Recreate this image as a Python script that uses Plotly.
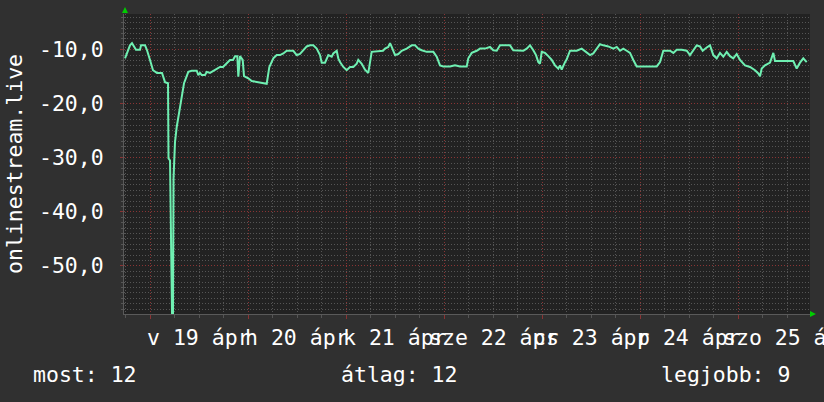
import plotly.graph_objects as go

# ---- data (hours since 2020-04-19 00:00, value) ----
hours = [-6.12, -4.90, -4.41, -3.43, -2.45, -2.20, -1.22, -0.73, 0.00, 0.73,
         1.71, 2.94, 3.67, 4.41, 4.53, 4.90, 5.39, 5.63, 5.76, 6.12,
         6.54, 7.18, 7.76, 8.33, 9.38, 10.21, 11.44, 11.83, 12.24, 12.66,
         13.47, 13.89, 14.69, 15.50, 16.33, 17.14, 17.88, 18.78, 19.59, 20.33,
         20.82, 21.38, 21.63, 22.04, 22.70, 23.02, 24.07, 24.91, 28.58, 29.22,
         30.20, 31.03, 31.84, 32.65, 33.48, 35.09, 35.93, 36.73, 37.54, 38.38,
         39.18, 39.99, 40.82, 41.63, 42.05, 42.86, 43.67, 44.49, 44.89, 45.72,
         46.11, 46.53, 47.34, 48.16, 48.98, 49.79, 50.62, 51.01, 51.85, 52.65,
         53.46, 54.29, 57.06, 57.55, 58.36, 58.78, 59.19, 60.00, 60.81, 61.64,
         62.86, 64.09, 64.90, 65.71, 66.54, 67.76, 69.38, 70.21, 71.02, 71.83,
         73.47, 74.69, 75.92, 77.56, 77.95, 78.79, 80.01, 80.82, 82.04, 83.27,
         84.07, 84.91, 85.72, 88.16, 88.97, 91.42, 92.25, 93.06, 93.87, 94.53,
         95.10, 95.51, 95.93, 96.73, 97.54, 98.38, 99.18, 99.99, 100.41, 100.82,
         101.63, 102.05, 102.86, 104.50, 105.72, 106.95, 107.76, 108.56, 109.39, 110.20,
         111.02, 112.24, 113.47, 114.30, 115.10, 115.91, 116.74, 117.55, 118.36, 119.19,
         124.09, 124.90, 125.71, 127.35, 128.16, 128.99, 130.22, 131.44, 132.24, 133.05,
         133.88, 134.69, 135.35, 136.33, 137.14, 137.95, 138.78, 139.59, 140.40, 141.23,
         142.04, 142.85, 143.68, 144.49, 145.71, 146.94, 148.16, 148.97, 149.39, 149.80,
         150.61, 151.84, 152.65, 153.06, 157.54, 158.37, 159.18, 159.99, 160.82]

values = [-11.6, -9.2, -8.8, -10.0, -10.0, -9.2, -9.2, -10.1, -11.9, -13.8,
          -14.3, -14.3, -16.0, -16.2, -30.1, -30.5, -58.9, -58.9, -33.8, -27.1,
          -24.3, -21.2, -18.1, -16.2, -14.1, -13.9, -13.9, -14.7, -14.3, -14.7,
          -14.7, -14.1, -14.3, -13.9, -13.5, -13.2, -13.2, -12.6, -11.9, -11.9,
          -11.2, -11.2, -15.0, -11.2, -11.9, -14.9, -15.3, -15.8, -16.3, -13.2,
          -11.6, -11.0, -11.0, -10.7, -10.2, -10.2, -11.0, -10.8, -10.1, -9.4,
          -9.2, -9.2, -9.8, -11.0, -12.4, -12.4, -11.0, -11.3, -10.7, -10.2,
          -11.6, -12.3, -13.2, -13.8, -13.2, -13.2, -12.6, -11.9, -12.6, -13.7,
          -14.3, -10.4, -10.2, -9.8, -9.5, -8.8, -9.5, -11.0, -10.8, -10.2,
          -9.8, -9.2, -9.2, -9.8, -10.1, -10.4, -10.4, -11.3, -12.9, -13.1,
          -13.1, -12.9, -13.1, -13.1, -11.6, -10.6, -10.2, -9.8, -9.8, -9.5,
          -10.1, -10.2, -9.2, -9.2, -10.1, -10.2, -9.8, -9.2, -10.1, -11.0,
          -12.3, -12.6, -10.4, -10.6, -11.2, -11.9, -12.9, -13.5, -12.9, -13.7,
          -12.3, -11.8, -10.2, -10.2, -9.8, -10.6, -11.0, -10.7, -9.8, -9.0,
          -9.2, -9.4, -9.8, -9.5, -10.2, -9.8, -10.2, -10.6, -11.9, -13.1,
          -13.1, -12.3, -10.2, -10.2, -10.6, -10.0, -10.0, -10.2, -11.0, -10.1,
          -9.2, -9.4, -10.2, -9.6, -9.2, -11.0, -11.6, -10.6, -11.3, -10.4,
          -11.2, -11.6, -10.8, -11.9, -12.9, -13.2, -13.8, -14.4, -14.9, -13.5,
          -12.9, -12.4, -10.6, -12.1, -12.1, -13.5, -12.4, -11.6, -12.3]

day_positions = [12, 36, 60, 84, 108, 132, 156]
day_labels = ["v 19 ápr", "h 20 ápr", "k 21 ápr", "sze 22 ápr",
              "cs 23 ápr", "p 24 ápr", "szo 25 ápr"]
y_tick_values = [-50, -40, -30, -20, -10]
y_tick_labels = ["-50,0", "-40,0", "-30,0", "-20,0", "-10,0"]
y_title = "onlinestream.live"
legend_texts = ["most: 12", "átlag: 12", "legjobb: 9"]
x_range = [-6.37, 161.63]
y_range = [-58.9, -3.4]

# ---- style ----
FONT = "DejaVu Sans Mono"
FS = 21.5
TXT = "#ffffff"
PAPER = "#303030"
PLOT = "#222222"
LINE = "#6ff0b2"
MAJOR = "#8a3434"
MINOR = "#555555"
ARROW = "#00cc00"

fig = go.Figure()
fig.add_trace(go.Scatter(x=hours, y=values, mode="lines",
                         line=dict(color=LINE, width=2), hoverinfo="skip",
                         showlegend=False))

fig.update_layout(
    width=824, height=402,
    margin=dict(l=124, r=14, t=14, b=88, pad=0),
    paper_bgcolor=PAPER, plot_bgcolor=PLOT,
    font=dict(family=FONT, size=FS, color=TXT),
    showlegend=False,
)

fig.update_xaxes(
    range=x_range, showticklabels=False, zeroline=False,
    tick0=0, dtick=24, showgrid=True, gridcolor=MAJOR, griddash="1px,2px", gridwidth=1,
    ticks="outside", ticklen=4, tickcolor=MAJOR,
    showline=True, linecolor="#5a5a5a", linewidth=1,
    minor=dict(tick0=0, dtick=6, showgrid=True, gridcolor=MINOR, griddash="1px,2px",
               ticks="outside", ticklen=3, tickcolor=MINOR),
)
fig.update_yaxes(
    range=y_range, zeroline=False,
    tickmode="array", tickvals=y_tick_values, ticktext=y_tick_labels,
    tickfont=dict(family=FONT, size=FS, color=TXT),
    showgrid=True, gridcolor=MAJOR, griddash="1px,2px", gridwidth=1,
    ticks="outside", ticklen=3, tickcolor=MAJOR, ticklabelstandoff=12,
    showline=True, linecolor="#5a5a5a", linewidth=1,
    minor=dict(tick0=0, dtick=1, showgrid=True, gridcolor=MINOR, griddash="1px,2px",
               ticks="outside", ticklen=2, tickcolor=MINOR),
)

annotations = []
for pos, lab in zip(day_positions, day_labels):
    annotations.append(dict(x=pos, y=-0.077, xref="x", yref="paper", text=lab,
                            showarrow=False, xanchor="center", yanchor="middle",
                            font=dict(family=FONT, size=FS, color=TXT)))
for xp, t in zip([-0.1356, 0.3135, 0.7800], legend_texts):
    annotations.append(dict(x=xp, y=-0.203, xref="paper", yref="paper", text=t,
                            showarrow=False, xanchor="left", yanchor="middle",
                            font=dict(family=FONT, size=FS, color=TXT)))
annotations.append(dict(x=-0.1603, y=0.5, xref="paper", yref="paper", text=y_title,
                        textangle=-90, showarrow=False, xanchor="center", yanchor="middle",
                        font=dict(family=FONT, size=FS, color=TXT)))
fig.update_layout(annotations=annotations)

fig.update_layout(shapes=[
    dict(type="path", xref="paper", yref="paper",
         path="M -0.0029,1.0033 L 0.0058,1.0033 L 0.0015,1.0233 Z",
         fillcolor=ARROW, line=dict(width=0)),
    dict(type="path", xref="paper", yref="paper",
         path="M 1.0,0.0100 L 1.0,-0.0100 L 1.0087,0.0 Z",
         fillcolor=ARROW, line=dict(width=0)),
])

fig.write_html("out.html", config={"displayModeBar": False},
               post_script="document.body.style.margin='0';")
